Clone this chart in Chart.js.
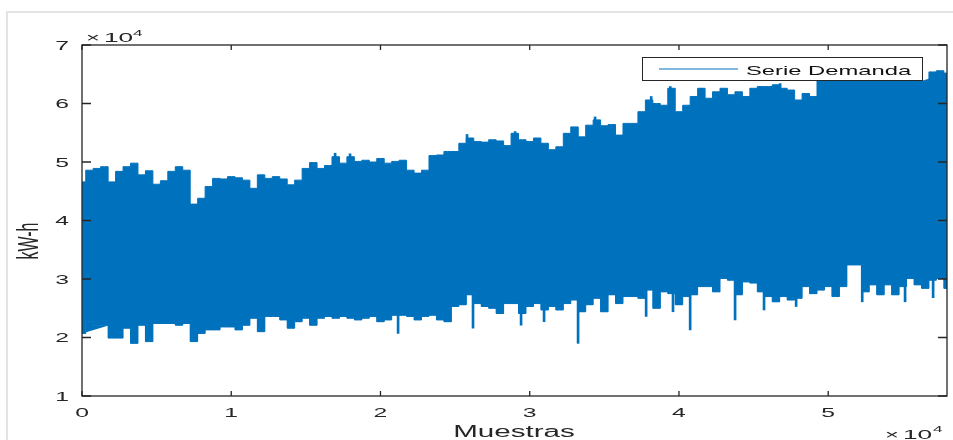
<!DOCTYPE html>
<html>
<head>
<meta charset="utf-8">
<script src="https://cdn.jsdelivr.net/npm/chart.js@4"></script>
<style>
  body { margin: 0; background: #fff; }
  #wrap { width: 953px; height: 440px; position: relative; }
</style>
</head>
<body>
<div id="wrap"><canvas id="demandChart"></canvas></div>
<script>
// Data (kW-h), envelope of the demand series every 500 samples
const lastSample = 57960;
const upperEnv = [46600, 48600, 48900, 49200, 46600, 48400, 49200, 49800, 47800, 48500,
    46200, 46800, 48400, 49200, 48600, 42800, 43800, 45800, 47200, 47100,
    47500, 47300, 46900, 45500, 47800, 47200, 47500, 47100, 46100, 46900,
    48900, 49900, 48900, 49400, 50900, 49800, 50900, 50100, 50300, 50000,
    50600, 49800, 50100, 50300, 48600, 48100, 48600, 51100, 51200, 51800,
    51800, 53200, 54100, 53500, 53400, 53800, 53600, 52800, 54900, 53800,
    53500, 54100, 53200, 52100, 52600, 54900, 56000, 54300, 56300, 57200,
    56200, 56400, 54600, 56600, 56600, 58600, 60600, 60000, 59700, 62600,
    58600, 59700, 61200, 62600, 60900, 62000, 62600, 61500, 62000, 61200,
    62600, 62900, 62900, 63200, 62600, 62300, 60600, 61700, 61200, 64500,
    65000, 64500, 65000, 64500, 65000, 64500, 64000, 65000, 64500, 65000,
    64000, 64500, 65000, 63200, 65400, 65600, 65200, 65000];
const lowerEnv = [20700, 22700, 22100, 22100, 19900, 19900, 21600, 19000, 22100, 19300,
    22400, 22400, 22400, 22100, 22400, 19300, 20700, 21300, 21300, 21800,
    21800, 21300, 22100, 23300, 21000, 23600, 23600, 23000, 21600, 22700,
    23300, 22100, 23300, 23600, 23300, 23600, 23300, 23000, 23300, 23600,
    22700, 23000, 23800, 23800, 23600, 23000, 23600, 23800, 23000, 22700,
    25300, 25600, 27300, 25800, 25300, 25000, 24100, 25800, 25800, 24100,
    25300, 25800, 24700, 25300, 24700, 25800, 26400, 24400, 25600, 26700,
    24400, 27300, 25800, 27000, 27000, 26700, 28100, 25000, 27800, 27500,
    25600, 27000, 27300, 28700, 28700, 27800, 30100, 29800, 27300, 29500,
    29300, 27800, 27000, 26100, 27000, 26400, 26700, 28700, 27500, 28100,
    28700, 27000, 28700, 32400, 32400, 27800, 29000, 27300, 29000, 27300,
    28700, 30100, 29000, 28400, 29800, 30100, 28400, 28500];
const samples = upperEnv.map((_, i) => (i < upperEnv.length - 1 ? i * 500 : lastSample));

// single samples that stick out of the envelope
const spikeSamples = [21180, 26200, 29420, 30960, 33240, 37800, 39600, 40750, 43760, 45700, 47850, 52280, 55150, 57030,
    16960, 17960, 25800, 29020, 34380, 38140, 39420, 41500, 46780];
const spikeValues = [20700, 21600, 22100, 22700, 19000, 23600, 24400, 21300, 23000, 24700, 25300, 26100, 26100, 26800,
    51500, 51400, 54700, 55200, 57700, 61200, 62900, 62600, 63400];

const xTicks = [0, 10000, 20000, 30000, 40000, 50000];
const xTickLabels = ['0', '1', '2', '3', '4', '5'];
const yTicks = [10000, 20000, 30000, 40000, 50000, 60000, 70000];
const yTickLabels = ['1', '2', '3', '4', '5', '6', '7'];

const blue = '#0072BD';
const axisColor = '#262626';
const fontFam = '"Liberation Sans", Arial, Helvetica, sans-serif';

// MATLAB text looks stretched sideways in the picture
function wideText(ctx, txt, x, y, size, align, sx) {
    ctx.save();
    ctx.translate(x, y);
    ctx.scale(sx, 1);
    ctx.font = size + 'px ' + fontFam;
    ctx.textAlign = align;
    ctx.textBaseline = 'alphabetic';
    ctx.fillText(txt, 0, 0);
    ctx.restore();
}

const matlabAxes = {
    id: 'matlabAxes',
    beforeDraw(chart) {
        const ctx = chart.ctx;
        ctx.save();
        ctx.strokeStyle = '#e4e4e4';
        ctx.lineWidth = 2;
        ctx.beginPath();
        ctx.moveTo(7, 440);
        ctx.lineTo(7, 12);
        ctx.lineTo(953, 12);
        ctx.stroke();
        ctx.restore();
    },
    afterDraw(chart) {
        const { ctx, chartArea: a, scales: { x, y } } = chart;
        ctx.save();
        ctx.strokeStyle = axisColor;
        ctx.fillStyle = axisColor;
        ctx.lineWidth = 1.3;
        ctx.strokeRect(a.left, a.top, a.right - a.left, a.bottom - a.top);
        ctx.beginPath();
        xTicks.forEach(v => {
            const px = x.getPixelForValue(v);
            ctx.moveTo(px, a.bottom); ctx.lineTo(px, a.bottom - 5);
            ctx.moveTo(px, a.top); ctx.lineTo(px, a.top + 5);
        });
        yTicks.forEach(v => {
            const py = y.getPixelForValue(v);
            ctx.moveTo(a.left, py); ctx.lineTo(a.left + 9, py);
            ctx.moveTo(a.right, py); ctx.lineTo(a.right - 9, py);
        });
        ctx.stroke();

        // tick labels
        xTicks.forEach((v, i) => wideText(ctx, xTickLabels[i], x.getPixelForValue(v), 416.5, 13, 'center', 1.9));
        yTicks.forEach((v, i) => wideText(ctx, yTickLabels[i], 69, y.getPixelForValue(v) + 4.8, 13, 'right', 1.9));

        // x10^4 exponents
        wideText(ctx, '\u00d7', 86, 41.7, 12.5, 'left', 1.9);
        wideText(ctx, '10', 104, 41.7, 12.5, 'left', 2.1);
        wideText(ctx, '4', 133, 35.5, 9, 'left', 1.9);
        wideText(ctx, '\u00d7', 885, 438.5, 12.5, 'left', 1.9);
        wideText(ctx, '10', 903, 438.5, 12.5, 'left', 2.1);
        wideText(ctx, '4', 933, 432, 9, 'left', 1.9);

        // axis titles
        wideText(ctx, 'Muestras', 514, 437, 16, 'center', 1.85);
        ctx.save();
        ctx.translate(38, 241);
        ctx.rotate(-Math.PI / 2);
        ctx.scale(1, 1.9);
        ctx.font = '16px ' + fontFam;
        ctx.textAlign = 'center';
        ctx.fillText('kW-h', 0, 0);
        ctx.restore();

        // legend
        ctx.fillStyle = '#fff';
        ctx.fillRect(642, 57, 280, 23);
        ctx.lineWidth = 1;
        ctx.strokeStyle = axisColor;
        ctx.strokeRect(642.5, 57.5, 280, 23);
        ctx.strokeStyle = blue;
        ctx.beginPath();
        ctx.moveTo(659, 69);
        ctx.lineTo(738, 69);
        ctx.stroke();
        ctx.fillStyle = '#111';
        wideText(ctx, chart.data.datasets[0].label, 746, 74.5, 13.5, 'left', 1.76);
        ctx.restore();
    }
};

const ctx = document.getElementById('demandChart').getContext('2d');
new Chart(ctx, {
    type: 'line',
    data: {
        datasets: [{
            label: 'Serie Demanda',
            data: samples.map((s, i) => ({ x: s, y: upperEnv[i] })),
            borderColor: blue,
            backgroundColor: blue,
            borderWidth: 1,
            pointRadius: 0,
            stepped: 'middle',
            fill: '+1'
        }, {
            label: 'lower',
            data: samples.map((s, i) => ({ x: s, y: lowerEnv[i] })),
            borderColor: blue,
            borderWidth: 1,
            pointRadius: 0,
            stepped: 'middle',
            fill: false
        }, {
            type: 'bar',
            label: 'spikes',
            data: spikeSamples.map((s, i) => ({ x: s, y: spikeValues[i] < 40000 ? [spikeValues[i], 33000] : [42000, spikeValues[i]] })),
            backgroundColor: blue,
            barThickness: 2
        }]
    },
    options: {
        responsive: true,
        maintainAspectRatio: false,
        animation: false,
        layout: { padding: { left: 82, top: 45, right: 6, bottom: 44 } },
        plugins: {
            legend: { display: false },
            tooltip: { enabled: false }
        },
        scales: {
            x: { type: 'linear', min: 0, max: lastSample, offset: false, display: false },
            y: { min: 10000, max: 70000, display: false }
        }
    },
    plugins: [matlabAxes]
});
</script>
</body>
</html>
